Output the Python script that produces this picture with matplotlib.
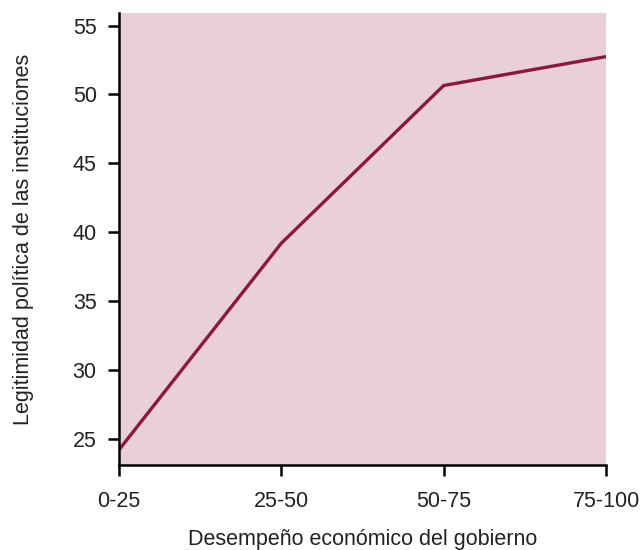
import matplotlib
matplotlib.use("Agg")
import matplotlib.pyplot as plt

# data
categories = ["0-25", "25-50", "50-75", "75-100"]
legitimidad = [24.2, 39.2, 50.65, 52.75]
yticks = [25, 30, 35, 40, 45, 50, 55]

plt.rcParams['font.family'] = ['Liberation Sans', 'DejaVu Sans']

fig = plt.figure(figsize=(6.43, 5.5), dpi=100)
ax = fig.add_axes([0.185, 0.1545, 0.7575, 0.8215])
ax.set_facecolor('#e8cfd8')

x = list(range(len(categories)))
ax.plot(x, legitimidad, color='#8c1740', linewidth=2.4, solid_capstyle='butt')

ax.set_xlim(0, len(categories) - 1)
ax.set_ylim(23.1, 55.9)
ax.set_xticks(x)
ax.set_xticklabels(categories)
ax.set_yticks(yticks)

for s in ['top', 'right']:
    ax.spines[s].set_visible(False)
for s in ['left', 'bottom']:
    ax.spines[s].set_linewidth(1.8)
    ax.spines[s].set_color('black')

ax.tick_params(axis='both', direction='out', length=8, width=1.8,
               labelsize=15.5, colors='black', labelcolor='#222222')
ax.tick_params(axis='x', pad=11)
ax.tick_params(axis='y', pad=8)

ax.set_xlabel('Desempeño económico del gobierno', fontsize=15.5, color='#222222', labelpad=12)
ax.set_ylabel('Legitimidad política de las instituciones', fontsize=15.5, color='#222222', labelpad=28)

fig.savefig('out.png', dpi=100)
